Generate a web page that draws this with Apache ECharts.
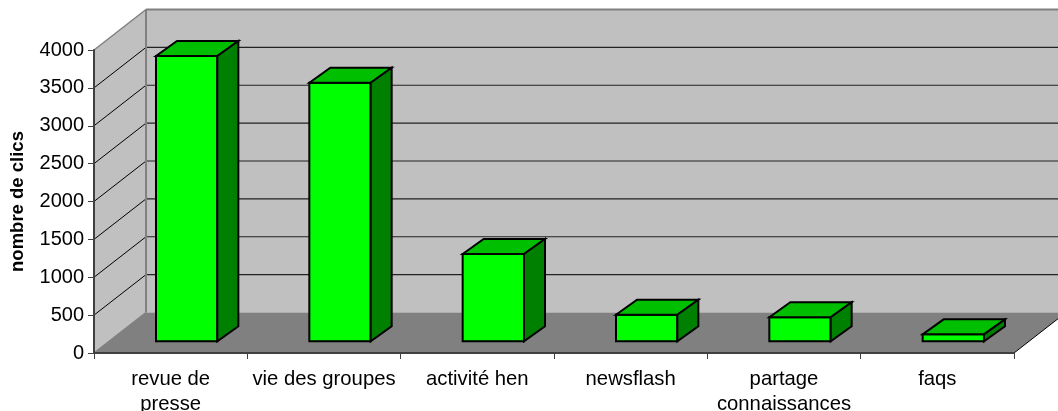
<!DOCTYPE html>
<html><head><meta charset="utf-8">
<style>html,body{margin:0;padding:0;background:#fff}#c{width:1058px;height:411px}</style>
<script src="https://cdn.jsdelivr.net/npm/echarts@6/dist/echarts.min.js"></script>
</head><body><div id="c"></div>
<script>
const categories = ['revue de\npresse','vie des groupes','activité hen','newsflash','partage\nconnaissances','faqs'];
const clicks = [3766,3414,1152,351,317,92];
const yTicks = [0,500,1000,1500,2000,2500,3000,3500,4000];

const WALL_DX = 52, WALL_DY = -40.5;
const BAR_OFF_DX = 16, BAR_OFF_DY = -11.7;
const BAR_DX = 21, BAR_DY = -15;
const BAR_BAND = 0.4;

function poly(points, fill, stroke, lw, z2){
  return {type:'polygon', shape:{points}, z2:z2||0,
    style:{fill:fill, stroke:stroke||null, lineWidth:lw||0, lineJoin:'miter'}};
}
function line(x1,y1,x2,y2,stroke,lw,z2){
  return {type:'line', shape:{x1,y1,x2,y2}, z2:z2||0, style:{stroke, lineWidth:lw, fill:null}};
}
function renderRoom(params, api){
  const band = api.size([1,0])[0];
  const L = api.coord([0,0])[0] - band/2;
  const R = api.coord([categories.length-1,0])[0] + band/2;
  const y0 = api.coord([0,0])[1];
  const yT = api.coord([0,4000])[1];
  const ch = [];
  const bL = L+WALL_DX, bR = R+WALL_DX, b0 = y0+WALL_DY, bT = yT+WALL_DY;
  ch.push(poly([[bL,bT],[bR,bT],[bR,b0],[bL,b0]],'#c0c0c0'));
  ch.push(poly([[L,yT],[bL,bT],[bL,b0],[L,y0]],'#c0c0c0'));
  ch.push(poly([[L,y0],[bL,b0],[bR,b0],[R,y0]],'#808080'));
  yTicks.forEach(t=>{
    if(t===0||t===4000) return;
    const y = api.coord([0,t])[1];
    ch.push(line(L,y,bL,y+WALL_DY,'#000',1,1));
    ch.push(line(bL,y+WALL_DY,bR,y+WALL_DY,'#222',1.2,1));
  });
  ch.push(line(L,yT,bL,bT,'#808080',1.5,2));
  ch.push(line(bL,bT,bR,bT,'#808080',2,2));
  ch.push(line(bL,bT,bL,b0,'#808080',2,2));
  ch.push(line(L,y0,bL,b0,'#808080',1.5,2));
  ch.push(line(R,y0,bR,b0,'#000',1,2));
  return {type:'group', children:ch};
}
function renderBar(params, api){
  const band = api.size([1,0])[0];
  const c = api.coord([api.value(0), 0]);
  const t = api.coord([api.value(0), api.value(1)]);
  const w = band*BAR_BAND;
  const x1 = c[0]-w/2+BAR_OFF_DX, x2 = x1+w;
  const yb = c[1]+BAR_OFF_DY, yt = t[1]+BAR_OFF_DY;
  const s='#000', lw=2;
  return {type:'group', children:[
    poly([[x1,yt],[x2,yt],[x2,yb],[x1,yb]],'#00ff00',s,lw),
    poly([[x1,yt],[x1+BAR_DX,yt+BAR_DY],[x2+BAR_DX,yt+BAR_DY],[x2,yt]],'#00bf00',s,lw),
    poly([[x2,yt],[x2+BAR_DX,yt+BAR_DY],[x2+BAR_DX,yb+BAR_DY],[x2,yb]],'#008000',s,lw)
  ]};
}
const font = 'Liberation Sans';
const chart = echarts.init(document.getElementById('c'), null, {renderer:'canvas'});
chart.setOption({
  animation:false,
  backgroundColor:'#fff',
  grid:{left:94,right:44,top:50,bottom:58,outerBoundsMode:'none',containLabel:false},
  xAxis:{type:'category',data:categories,z:5,
    axisLine:{show:true,lineStyle:{color:'#404040',width:2}},
    axisTick:{show:true,length:6,lineStyle:{color:'#404040',width:1}},
    axisLabel:{interval:0,fontFamily:font,fontSize:20.3,color:'#000',margin:14,lineHeight:25,hideOverlap:false},
    splitLine:{show:false}},
  yAxis:{type:'value',min:0,max:4000,interval:500,z:5,
    name:'nombre de clics',nameLocation:'middle',nameGap:67,nameRotate:90,
    nameTextStyle:{fontFamily:font,fontSize:18.5,fontWeight:'bold',color:'#000'},
    axisLine:{show:true,lineStyle:{color:'#404040',width:2}},
    axisTick:{show:true,length:6,lineStyle:{color:'#404040',width:1}},
    axisLabel:{fontFamily:font,fontSize:20,color:'#000',margin:10,formatter:v=>String(v)},
    splitLine:{show:false}},
  series:[
    {type:'custom',z:1,silent:true,clip:false,renderItem:renderRoom,data:[[0,0]]},
    {type:'custom',z:2,silent:true,clip:false,renderItem:renderBar,
     encode:{x:0,y:1},data:clicks.map((v,i)=>[i,v])}
  ]
});
</script></body></html>
